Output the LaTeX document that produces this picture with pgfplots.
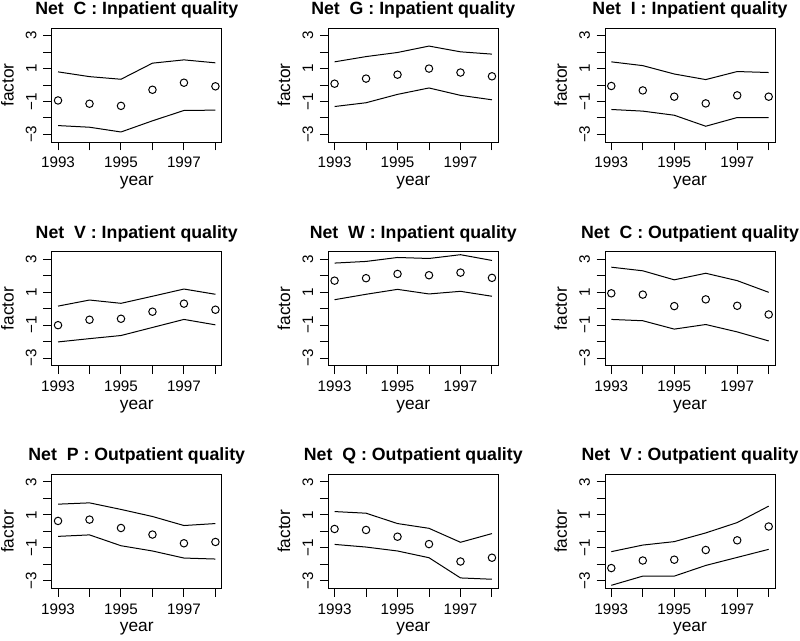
\documentclass[border=0pt]{standalone}
\usepackage{fontspec}
\setmainfont{Liberation Sans}
\usepackage{pgfplots}
\pgfplotsset{compat=1.18}
\pgfplotsset{rpanel/.style={
  scale only axis, width=127.5pt, height=85.5pt,
  xmin=1992.8, xmax=1998.2, ymin=-3.47, ymax=3.47,
  xtick={1993,1994,1995,1996,1997,1998},
  xticklabels={1993,,1995,,1997,},
  ytick={-3,-2,-1,0,1,2,3},
  yticklabels={−3,,−1,,1,,3},
  xtick pos=bottom, ytick pos=left,
  tick align=outside, major tick length=6.3pt,
  tick style={black, line width=0.75pt},
  axis line style={black, line width=0.75pt},
  ticklabel style={font=\fontsize{11.4}{13}\selectfont},
  xticklabel shift=1.5pt, yticklabel shift=1.5pt,
  yticklabel style={rotate=90, anchor=south},
  xticklabel style={anchor=north},
  xlabel={year}, ylabel={factor},
  label style={font=\fontsize{13}{15}\selectfont},
  xlabel style={at={(axis description cs:0.5,-0.357)}, anchor=center},
  ylabel style={at={(axis description cs:-0.261,0.5)}, anchor=center},
  title style={at={(axis description cs:0.5,1.088)}, anchor=center, font=\fontsize{13.3}{15}\selectfont\bfseries},
  clip=false,
}}
\newcommand{\panel}[6]{%
\begin{axis}[rpanel, at={(#1pt,-#2pt)}, anchor=north west, title={#3}]
\addplot[black, line width=0.75pt, mark=none] coordinates {#4};
\addplot[black, line width=0.75pt, only marks, mark=o, mark size=2.8pt] coordinates {#5};
\addplot[black, line width=0.75pt, mark=none] coordinates {#6};
\end{axis}}
\begin{document}
\begin{tikzpicture}
\useasboundingbox (0,0) rectangle (600pt,-480pt);
% row 1
\panel{38.8}{21}{Net\ \ C : Inpatient quality}
{(1993,0.80) (1994,0.51) (1995,0.35) (1996,1.33) (1997,1.53) (1998,1.35)}
{(1993,-0.94) (1994,-1.14) (1995,-1.27) (1996,-0.29) (1997,0.14) (1998,-0.08)}
{(1993,-2.47) (1994,-2.57) (1995,-2.86) (1996,-2.18) (1997,-1.55) (1998,-1.53)}
\panel{246.2}{21}{Net\ \ G : Inpatient quality}
{(1993,1.41) (1994,1.73) (1995,1.98) (1996,2.37) (1997,2.02) (1998,1.88)}
{(1993,0.08) (1994,0.39) (1995,0.63) (1996,1.00) (1997,0.76) (1998,0.53)}
{(1993,-1.31) (1994,-1.08) (1995,-0.57) (1996,-0.18) (1997,-0.63) (1998,-0.90)}
\panel{453.75}{21}{Net\ \ I : Inpatient quality}
{(1993,1.41) (1994,1.18) (1995,0.67) (1996,0.33) (1997,0.82) (1998,0.76)}
{(1993,-0.06) (1994,-0.33) (1995,-0.71) (1996,-1.12) (1997,-0.63) (1998,-0.71)}
{(1993,-1.49) (1994,-1.59) (1995,-1.84) (1996,-2.51) (1997,-1.98) (1998,-1.98)}
% row 2
\panel{38.8}{188.8}{Net\ \ V : Inpatient quality}
{(1993,0.16) (1994,0.53) (1995,0.33) (1996,0.76) (1997,1.20) (1998,0.88)}
{(1993,-1.00) (1994,-0.67) (1995,-0.61) (1996,-0.18) (1997,0.31) (1998,-0.06)}
{(1993,-2.02) (1994,-1.82) (1995,-1.63) (1996,-1.14) (1997,-0.65) (1998,-0.98)}
\panel{246.2}{188.8}{Net\ \ W : Inpatient quality}
{(1993,2.78) (1994,2.88) (1995,3.12) (1996,3.06) (1997,3.29) (1998,2.94)}
{(1993,1.71) (1994,1.86) (1995,2.12) (1996,2.04) (1997,2.20) (1998,1.88)}
{(1993,0.55) (1994,0.88) (1995,1.18) (1996,0.90) (1997,1.06) (1998,0.76)}
\panel{453.75}{188.8}{Net\ \ C : Outpatient quality}
{(1993,2.53) (1994,2.31) (1995,1.76) (1996,2.16) (1997,1.71) (1998,1.00)}
{(1993,0.94) (1994,0.86) (1995,0.16) (1996,0.57) (1997,0.18) (1998,-0.35)}
{(1993,-0.65) (1994,-0.73) (1995,-1.24) (1996,-0.96) (1997,-1.41) (1998,-1.96)}
% row 3
\panel{38.8}{355.7}{Net\ \ P : Outpatient quality}
{(1993,1.65) (1994,1.73) (1995,1.33) (1996,0.90) (1997,0.35) (1998,0.47)}
{(1993,0.63) (1994,0.71) (1995,0.20) (1996,-0.20) (1997,-0.73) (1998,-0.65)}
{(1993,-0.31) (1994,-0.22) (1995,-0.88) (1996,-1.20) (1997,-1.63) (1998,-1.69)}
\panel{246.2}{355.7}{Net\ \ Q : Outpatient quality}
{(1993,1.20) (1994,1.10) (1995,0.47) (1996,0.18) (1997,-0.67) (1998,-0.14)}
{(1993,0.14) (1994,0.08) (1995,-0.33) (1996,-0.78) (1997,-1.84) (1998,-1.61)}
{(1993,-0.80) (1994,-0.96) (1995,-1.20) (1996,-1.61) (1997,-2.84) (1998,-2.92)}
\panel{453.75}{355.7}{Net\ \ V : Outpatient quality}
{(1993,-1.24) (1994,-0.84) (1995,-0.63) (1996,-0.10) (1997,0.53) (1998,1.53)}
{(1993,-2.24) (1994,-1.78) (1995,-1.73) (1996,-1.14) (1997,-0.55) (1998,0.29)}
{(1993,-3.29) (1994,-2.73) (1995,-2.73) (1996,-2.08) (1997,-1.59) (1998,-1.10)}
\end{tikzpicture}
\end{document}
